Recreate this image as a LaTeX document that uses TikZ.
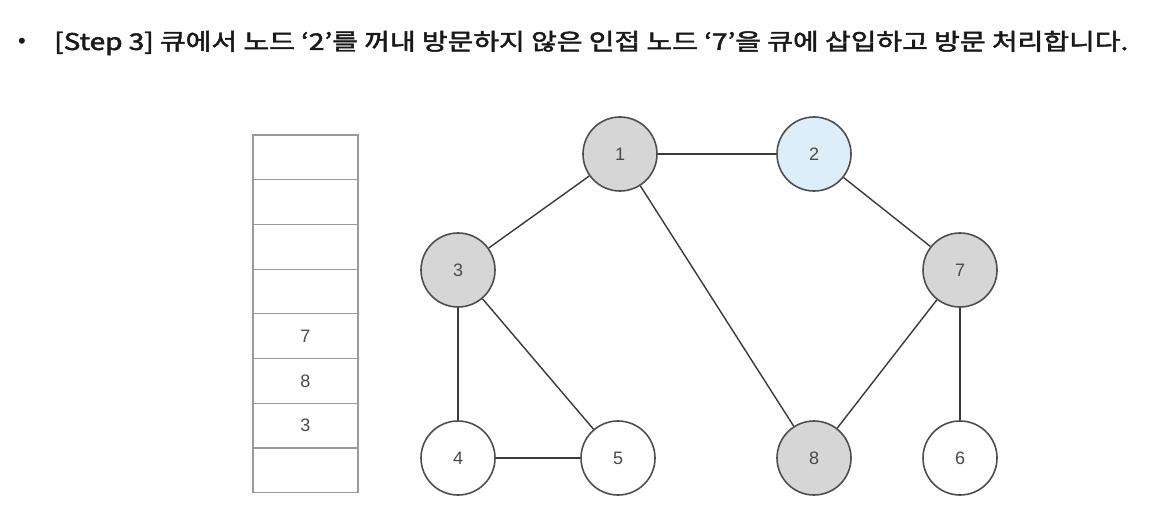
\documentclass[tikz,border=0pt]{standalone}
\usepackage{fontspec}
\usepackage{graphicx}
\setmainfont{Liberation Sans}
\newfontfamily\cjk{Noto Sans CJK KR}
\newcommand{\fakemed}[1]{\special{pdf:literal direct 2 Tr 0.45 w}#1\special{pdf:literal direct 0 Tr}}
\definecolor{nodegray}{HTML}{D6D6D6}
\definecolor{nodeblue}{HTML}{DCEEF7}
\definecolor{edgecol}{HTML}{3A3A3A}
\definecolor{boxcol}{HTML}{9A9A9A}
\definecolor{numcol}{HTML}{4A4A4A}
\begin{document}
\begin{tikzpicture}[x=1pt,y=-1pt,
  gnode/.style={circle,draw=edgecol!90,line width=1.6pt,minimum size=74pt,inner sep=0pt,font=\fontsize{18}{18}\selectfont,text=numcol},
  visited/.style={gnode,fill=nodegray},
  current/.style={gnode,fill=nodeblue},
  fresh/.style={gnode,fill=white},
  edge/.style={draw=edgecol,line width=1.4pt},
  qcell/.style={draw=boxcol,line width=1.1pt,minimum width=105pt,minimum height=44.7pt,inner sep=0pt,font=\fontsize{18}{18}\selectfont,text=numcol}
]
\useasboundingbox (0,0) rectangle (1166,529);
\fill[white] (0,0) rectangle (1166,529);
% title
\node[anchor=west,inner sep=0pt,text=black!90] (bullet) at (18,43) {\fontsize{22}{22}\selectfont •};
\node[anchor=west,inner sep=0pt,text=black!90] (title) at (54,43) {\resizebox{1074pt}{\height}{\cjk\fontsize{23}{23}\selectfont\fakemed{[Step 3] 큐에서 노드 ‘2’를 꺼내 방문하지 않은 인접 노드 ‘7’을 큐에 삽입하고 방문 처리합니다.}}};
% queue
\foreach \i/\t in {0/,1/,2/,3/,4/7,5/8,6/3,7/} {
  \node[qcell] (q\i) at (305.5,{157.4+44.7*\i}) {\t};
}
% nodes
\node[visited] (n1) at (620,154) {1};
\node[current] (n2) at (814,154) {2};
\node[visited] (n3) at (458,270) {3};
\node[visited] (n7) at (960,270) {7};
\node[fresh] (n4) at (458,458) {4};
\node[fresh] (n5) at (618,458) {5};
\node[visited] (n8) at (814,458) {8};
\node[fresh] (n6) at (960,458) {6};
% edges
\draw[edge] (n1) -- (n2);
\draw[edge] (n1) -- (n3);
\draw[edge] (n1) -- (n8);
\draw[edge] (n2) -- (n7);
\draw[edge] (n3) -- (n4);
\draw[edge] (n3) -- (n5);
\draw[edge] (n4) -- (n5);
\draw[edge] (n7) -- (n8);
\draw[edge] (n7) -- (n6);
\end{tikzpicture}
\end{document}
